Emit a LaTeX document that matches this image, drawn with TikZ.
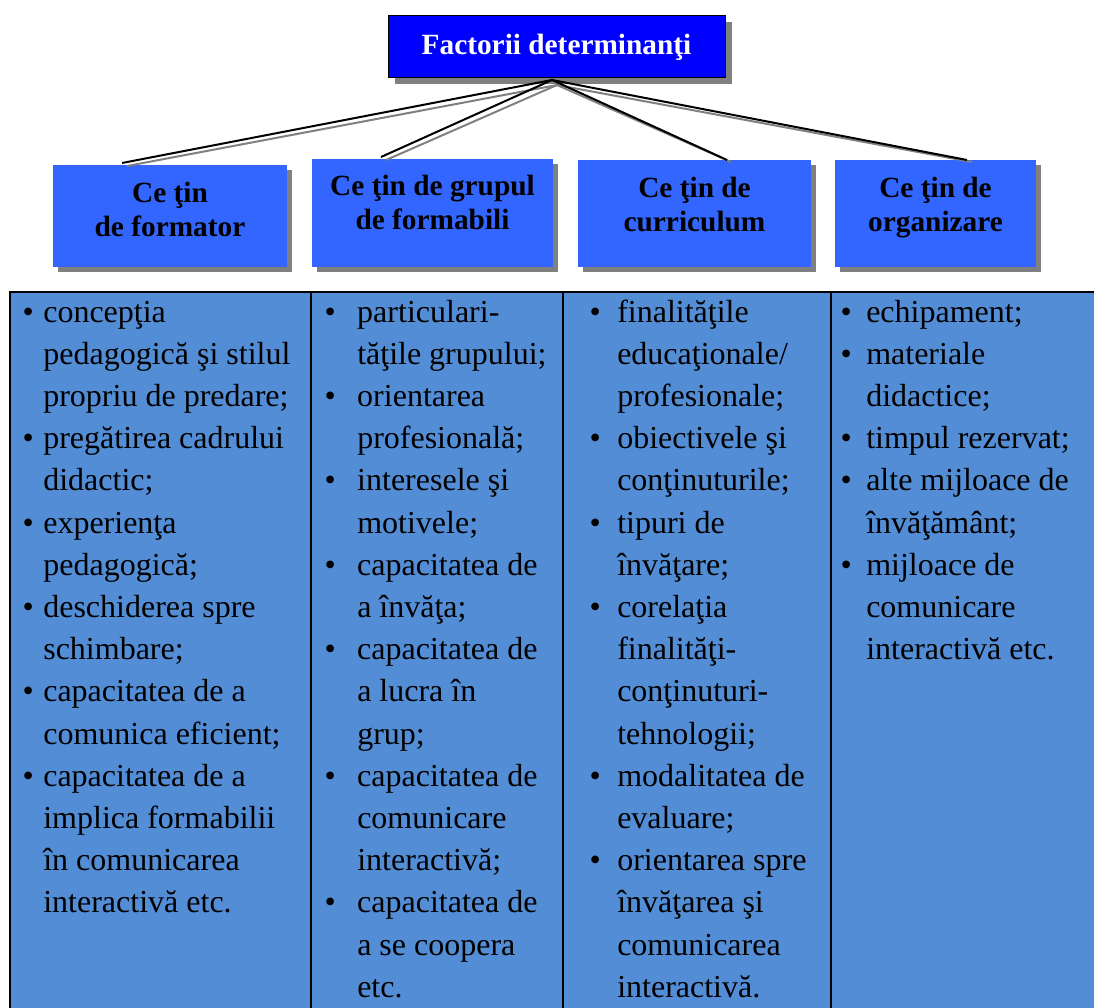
\documentclass[tikz,border=0pt]{standalone}
\usepackage{fontspec}
\setmainfont{Liberation Serif}
\usetikzlibrary{shadows}
\definecolor{titleblue}{RGB}{0,0,255}
\definecolor{headblue}{RGB}{51,102,255}
\definecolor{cellblue}{RGB}{83,141,213}
\definecolor{shadowgrey}{RGB}{128,128,128}
\newlength{\bulw}
\newcommand{\bl}{\makebox[\bulw][l]{\textbullet}}
\newcommand{\nb}{\hspace*{\bulw}}
\newcommand{\cellfont}{\fontsize{24pt}{31.65pt}\selectfont}
\begin{document}
\begin{tikzpicture}[x=0.75pt,y=-0.75pt,
  titlebox/.style={draw=black, line width=1.1pt, fill=titleblue, anchor=north west, inner sep=0pt,
    general shadow={fill=shadowgrey, shadow xshift=4.5pt, shadow yshift=-4.5pt}},
  headbox/.style={fill=headblue, anchor=north west, inner sep=0pt,
    general shadow={fill=shadowgrey, shadow xshift=3.75pt, shadow yshift=-3.75pt}},
  titletext/.style={anchor=base, inner sep=0pt, text=white, font=\fontsize{22pt}{26pt}\selectfont\bfseries},
  headtext/.style={anchor=base, inner sep=0pt, text=black, font=\fontsize{22pt}{26pt}\selectfont\bfseries},
  celltext/.style={anchor=base west, inner sep=0pt, font=\cellfont},
  conn/.style={draw=black, line width=1.5pt},
  connshadow/.style={draw=shadowgrey, line width=1.5pt},
  grid/.style={draw=black, line width=1.5pt}
]
\useasboundingbox (0,0) rectangle (1094,1007);
\clip (0,0) rectangle (1094,1007);

% table
\node[grid, fill=cellblue, anchor=north west, inner sep=0pt, minimum width=860pt, minimum height=560pt] (tab) at (9,291) {};
\coordinate (d1t) at (311,291); \coordinate (d1b) at (311,1012);
\coordinate (d2t) at (563,291); \coordinate (d2b) at (563,1012);
\coordinate (d3t) at (831,291); \coordinate (d3b) at (831,1012);
\draw[grid] (d1t) -- (d1b);
\draw[grid] (d2t) -- (d2b);
\draw[grid] (d3t) -- (d3b);

% title
\node[titlebox, minimum width=252.75pt, minimum height=46.5pt] (top) at (388,15) {};
\node[titletext] (toptxt) at (556.5,54) {Factorii determinanţi};

% header boxes
\node[headbox, minimum width=175.5pt, minimum height=76.5pt] (b1) at (53,165) {};
\node[headbox, minimum width=180.75pt, minimum height=81pt] (b2) at (312,159) {};
\node[headbox, minimum width=174.75pt, minimum height=80.25pt] (b3) at (578,160) {};
\node[headbox, minimum width=150.75pt, minimum height=80.25pt] (b4) at (835,160) {};

\node[headtext] (b1a) at (170,202) {Ce ţin};
\node[headtext] (b1b) at (170,236) {de formator};
\node[headtext] (b2a) at (432.5,195) {Ce ţin de grupul};
\node[headtext] (b2b) at (432.5,229) {de formabili};
\node[headtext] (b3a) at (694.5,197) {Ce ţin de};
\node[headtext] (b3b) at (694.5,231) {curriculum};
\node[headtext] (b4a) at (935.5,197) {Ce ţin de};
\node[headtext] (b4b) at (935.5,231) {organizare};

% connectors
\coordinate (hub) at (552,80);
\coordinate (hubs) at (557,85);
\coordinate (c1) at (122,163);  \coordinate (c1s) at (127,166);
\coordinate (c2) at (381,157);  \coordinate (c2s) at (386,160);
\coordinate (c3) at (727,160);  \coordinate (c3s) at (731,162);
\coordinate (c4) at (967,160);  \coordinate (c4s) at (972,162);
\draw[connshadow] (hubs) -- (c1s);
\draw[connshadow] (hubs) -- (c2s);
\draw[connshadow] (hubs) -- (c3s);
\draw[connshadow] (hubs) -- (c4s);
\draw[conn] (hub) -- (c1);
\draw[conn] (hub) -- (c2);
\draw[conn] (hub) -- (c3);
\draw[conn] (hub) -- (c4);

% column texts
\node[celltext] (col1) at (22.4,322) {\cellfont\setlength{\bulw}{15.5pt}\begin{tabular}[t]{@{}l@{}}
\bl concepţia\\
\nb pedagogică şi stilul\\
\nb propriu de predare;\\
\bl pregătirea cadrului\\
\nb didactic;\\
\bl experienţa\\
\nb pedagogică;\\
\bl deschiderea spre\\
\nb schimbare;\\
\bl capacitatea de a\\
\nb comunica eficient;\\
\bl capacitatea de a\\
\nb implica formabilii\\
\nb în comunicarea\\
\nb interactivă etc.
\end{tabular}};

\node[celltext] (col2) at (324.4,322) {\cellfont\setlength{\bulw}{24.45pt}\begin{tabular}[t]{@{}l@{}}
\bl particulari-\\
\nb tăţile grupului;\\
\bl orientarea\\
\nb profesională;\\
\bl interesele şi\\
\nb motivele;\\
\bl capacitatea de\\
\nb a învăţa;\\
\bl capacitatea de\\
\nb a lucra în\\
\nb grup;\\
\bl capacitatea de\\
\nb comunicare\\
\nb interactivă;\\
\bl capacitatea de\\
\nb a se coopera\\
\nb etc.
\end{tabular}};

\node[celltext] (col3) at (589.4,322) {\cellfont\setlength{\bulw}{20.7pt}\begin{tabular}[t]{@{}l@{}}
\bl finalităţile\\
\nb educaţionale/\\
\nb profesionale;\\
\bl obiectivele şi\\
\nb conţinuturile;\\
\bl tipuri de\\
\nb învăţare;\\
\bl corelaţia\\
\nb finalităţi-\\
\nb conţinuturi-\\
\nb tehnologii;\\
\bl modalitatea de\\
\nb evaluare;\\
\bl orientarea spre\\
\nb învăţarea şi\\
\nb comunicarea\\
\nb interactivă.
\end{tabular}};

\node[celltext] (col4) at (840.4,322) {\cellfont\setlength{\bulw}{19.2pt}\begin{tabular}[t]{@{}l@{}}
\bl echipament;\\
\bl materiale\\
\nb didactice;\\
\bl timpul rezervat;\\
\bl alte mijloace de\\
\nb învăţământ;\\
\bl mijloace de\\
\nb comunicare\\
\nb interactivă etc.
\end{tabular}};
\end{tikzpicture}
\end{document}
